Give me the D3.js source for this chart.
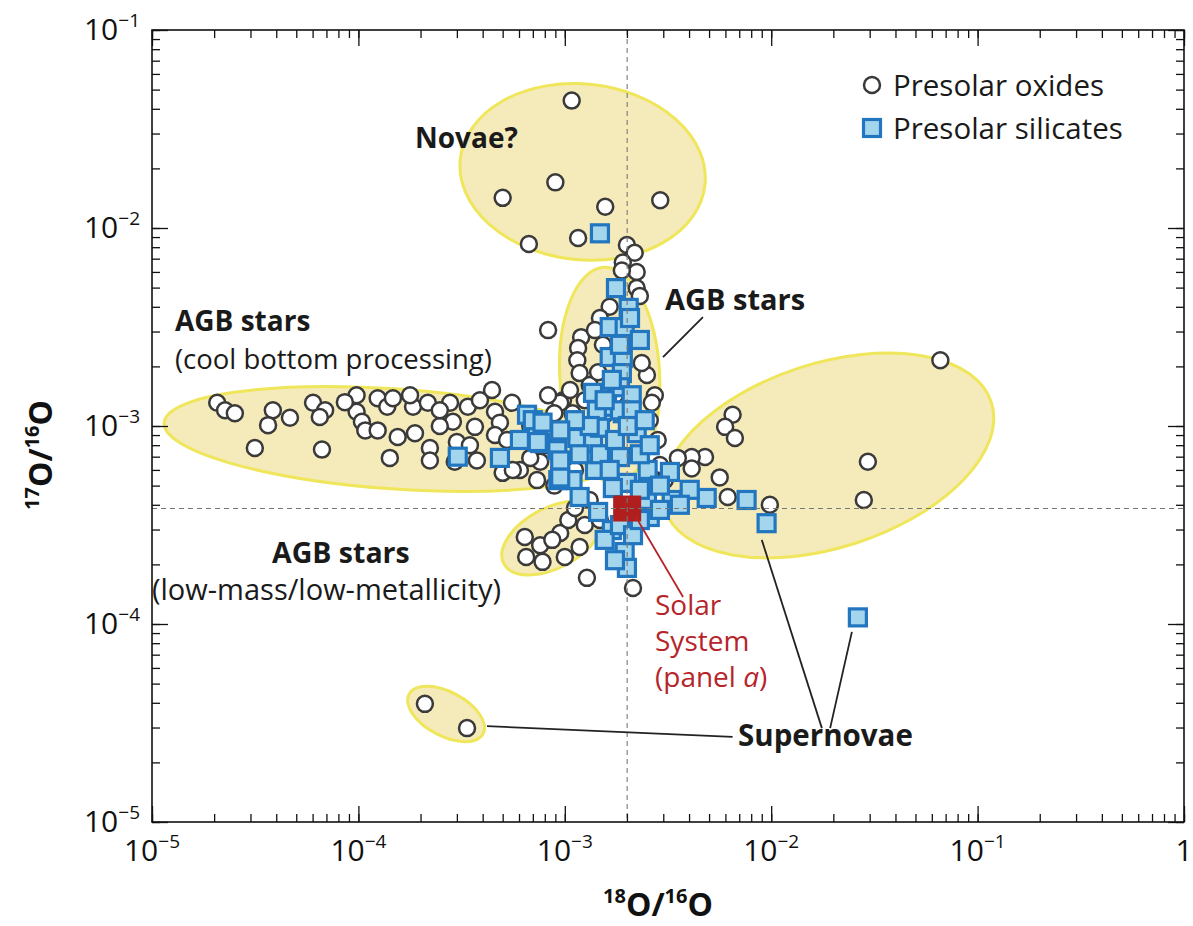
<!DOCTYPE html>
<html>
<head>
<meta charset="utf-8">
<script src="https://d3js.org/d3.v7.min.js"></script>
<style>
  body { margin: 0; background: #fff; }
  svg { display: block; }
  text { font-family: "Open Sans", sans-serif; }
</style>
</head>
<body>
<svg width="1193" height="926"></svg>
<script>
// 18O/16O and 17O/16O ratios
const oxides = [
  [1.08e-3, 4.4e-2], [5.0e-4, 1.42e-2], [9.0e-4, 1.7e-2], [1.57e-3, 1.28e-2], [2.9e-3, 1.38e-2],
  [6.7e-4, 8.3e-3], [1.16e-3, 8.9e-3],
  [2.0e-3, 8.2e-3], [2.18e-3, 7.5e-3], [1.91e-3, 6.7e-3], [2.23e-3, 6.0e-3], [1.89e-3, 6.1e-3],
  [2.23e-3, 4.97e-3], [2.31e-3, 4.54e-3], [1.65e-3, 4.0e-3], [1.2e-3, 2.81e-3], [1.16e-3, 2.48e-3],
  [1.15e-3, 2.15e-3], [1.18e-3, 1.85e-3], [2.5e-3, 1.81e-3], [2.36e-3, 2.08e-3], [9.8e-4, 1.35e-3],
  [1.09e-3, 1.16e-3], [8.3e-4, 3.05e-3], [1.48e-3, 3.51e-3], [1.32e-3, 1.61e-3], [1.53e-3, 2.57e-3],
  [2.73e-3, 1.43e-3], [2.58e-3, 1.07e-3], [1.25e-3, 1.35e-3], [1.45e-3, 1.87e-3],
  [2.07e-5, 1.31e-3], [2.26e-5, 1.2e-3], [2.52e-5, 1.16e-3], [3.85e-5, 1.2e-3], [3.65e-5, 1.01e-3],
  [4.66e-5, 1.1e-3], [3.15e-5, 7.75e-4], [6.03e-5, 1.31e-3], [6.9e-5, 1.2e-3], [6.5e-5, 1.11e-3],
  [6.66e-5, 7.6e-4], [9.8e-5, 1.43e-3], [9.8e-5, 1.18e-3], [1.04e-4, 1.05e-3], [1.24e-4, 1.38e-3],
  [1.38e-4, 1.25e-3], [1.47e-4, 1.38e-3], [1.84e-4, 1.25e-3], [2.17e-4, 1.31e-3], [1.55e-4, 8.8e-4],
  [1.88e-4, 9.2e-4], [1.42e-4, 6.9e-4], [2.22e-4, 7.75e-4], [2.22e-4, 6.7e-4], [2.78e-4, 1.31e-3],
  [3.39e-4, 1.25e-3], [4.44e-4, 1.52e-3], [5.55e-4, 1.31e-3], [4.59e-4, 1.18e-3], [2.87e-4, 1.05e-3],
  [3.67e-4, 9.9e-4], [4.85e-4, 1.04e-3], [3.0e-4, 8.3e-4], [3.75e-4, 6.7e-4], [4.59e-4, 9.0e-4],
  [5.25e-4, 8.5e-4], [5.0e-4, 5.8e-4], [6.06e-4, 6.0e-4], [7.34e-4, 5.33e-4], [7.6e-4, 6.6e-4],
  [9.5e-4, 1.31e-3], [8.9e-4, 1.16e-3], [5.6e-4, 6.0e-4], [6.8e-4, 6.9e-4], [1.78e-4, 1.43e-3],
  [2.48e-4, 1.0e-3], [1.08e-4, 9.5e-4], [8.6e-5, 1.32e-3], [8.0e-4, 8.0e-4], [6.8e-4, 1.0e-3],
  [6.4e-4, 2.75e-4], [7.6e-4, 2.5e-4], [6.5e-4, 2.18e-4], [7.8e-4, 2.06e-4], [9.5e-4, 2.88e-4],
  [1.18e-3, 2.45e-4], [1.0e-3, 2.18e-4], [1.04e-3, 3.35e-4], [1.28e-3, 1.71e-4], [2.14e-3, 1.52e-4],
  [8.7e-4, 2.66e-4], [1.12e-3, 3.85e-4], [1.25e-3, 3.16e-4],
  [6.5e-3, 1.14e-3], [5.98e-3, 9.9e-4], [6.67e-3, 8.7e-4], [4.78e-3, 6.97e-4], [4.12e-3, 6.97e-4],
  [3.53e-3, 6.9e-4], [4.12e-3, 6.1e-4], [5.63e-3, 5.5e-4], [6.16e-3, 4.38e-4], [9.85e-3, 4.0e-4],
  [6.6e-2, 2.15e-3], [2.94e-2, 6.6e-4], [2.81e-2, 4.23e-4], [2.89e-3, 6.35e-4], [3.05e-3, 5.33e-4],
  [2.1e-4, 3.95e-5], [3.36e-4, 2.98e-5],
  [8.3e-4, 1.43e-3], [1.06e-3, 1.52e-3], [8.9e-4, 5.0e-4], [1.32e-3, 4.23e-4], [1.12e-3, 6.0e-4],
  [1.48e-3, 3.35e-4], [2.82e-3, 8.5e-4], [3.88e-4, 1.35e-3], [2.48e-4, 1.2e-3], [2.93e-4, 6.6e-4],
  [1.24e-4, 9.5e-4], [3.47e-4, 8.0e-4], [1.40e-3, 3.05e-3], [1.56e-3, 1.14e-3], [1.75e-3, 1.43e-3],
  [2.64e-3, 1.31e-3]
];

const silicates = [
  [1.48e-3, 9.4e-3], [1.77e-3, 4.97e-3], [2.04e-3, 3.95e-3], [1.65e-3, 3.16e-3], [1.95e-3, 3.16e-3],
  [2.31e-3, 2.72e-3], [1.65e-3, 2.23e-3], [1.91e-3, 2.2e-3], [1.89e-3, 1.85e-3], [1.85e-3, 1.57e-3],
  [1.37e-3, 1.47e-3], [1.6e-3, 1.25e-3], [1.91e-3, 1.16e-3], [2.07e-3, 3.51e-3], [1.85e-3, 2.57e-3],
  [2.11e-3, 1.43e-3], [1.69e-3, 1.71e-3],
  [4.85e-4, 6.9e-4], [3.03e-4, 7.0e-4], [6.56e-4, 1.14e-3], [7.16e-4, 1.01e-3], [7.6e-4, 8.2e-4],
  [9.2e-4, 7.55e-4], [1.15e-3, 8.7e-4], [1.37e-3, 8.2e-4], [1.40e-3, 6.0e-4], [1.09e-3, 5.33e-4],
  [9.3e-4, 5.33e-4], [1.18e-3, 4.38e-4], [1.45e-3, 3.68e-4], [1.69e-3, 2.98e-4], [1.95e-3, 2.31e-4],
  [2.0e-3, 1.92e-4], [1.85e-3, 1.2e-3], [1.85e-3, 6.97e-4], [2.23e-3, 9.2e-4], [2.52e-3, 6.0e-4],
  [3.23e-3, 5.86e-4], [3.30e-3, 4.23e-4], [2.5e-3, 4.23e-4], [2.58e-3, 3.47e-4], [4.87e-3, 4.33e-4],
  [7.6e-3, 4.23e-4], [9.5e-3, 3.23e-4], [2.0e-3, 5.16e-4], [1.71e-3, 4.86e-4], [1.43e-3, 1.2e-3],
  [2.11e-3, 1.2e-3], [1.48e-3, 9.8e-4], [7.0e-4, 1.07e-3], [7.8e-4, 1.04e-3], [7.4e-4, 8.3e-4],
  [9.5e-4, 5.5e-4], [2.63e-2, 1.08e-4], [9.5e-4, 6.7e-4], [1.18e-3, 7.2e-4], [1.48e-3, 7.2e-4],
  [2.31e-3, 7.2e-4], [2.89e-3, 5.0e-4], [2.31e-3, 4.76e-4], [1.65e-3, 6.0e-4], [1.56e-3, 2.66e-4],
  [1.85e-3, 3.16e-4], [2.14e-3, 2.81e-4], [2.31e-3, 3.35e-4], [1.75e-3, 2.1e-4], [1.32e-3, 1.0e-3],
  [1.12e-3, 1.07e-3], [9.5e-4, 9.5e-4], [1.75e-3, 8.5e-4], [2.58e-3, 8.0e-4], [4.03e-3, 4.76e-4],
  [3.61e-3, 4.0e-4], [2.89e-3, 3.77e-4], [1.56e-3, 1.35e-3], [2.02e-3, 1.0e-3], [2.44e-3, 1.07e-3],
  [6.06e-4, 8.5e-4]
];

const solarSystem = [2.005e-3, 3.83e-4];

// shaded source regions: centre (ratios), half widths in decades, tilt in degrees
const regions = [
  { name: "novae", cx: 1.22e-3, cy: 1.92e-2, rx: 0.596, ry: 0.444, rot: 6 },
  { name: "agbCbp", cx: 1.5e-4, cy: 8.6e-4, rx: 1.12, ry: 0.2525, rot: 4 },
  { name: "snBig", cx: 1.88e-2, cy: 7.1e-4, rx: 0.833, ry: 0.465, rot: -18 },
  { name: "agbLow", cx: 8.7e-4, cy: 2.72e-4, rx: 0.266, ry: 0.152, rot: -28 },
  { name: "agb", cx: 1.65e-3, cy: 1.81e-3, rx: 0.242, ry: 0.545, rot: -3 },
  { name: "snSmall", cx: 2.66e-4, cy: 3.51e-5, rx: 0.2035, ry: 0.111, rot: 28 }
];

// leader lines, in ratios
const leaders = [
  { from: [4.67e-3, 3.55e-3], to: [2.99e-3, 2.23e-3], color: "#222" },
  { from: [2.21e-3, 3.47e-4], to: [3.74e-3, 1.37e-4], color: "#b5252a" },
  { from: [6.5e-3, 2.69e-5], to: [4.2e-4, 3.05e-5], color: "#222" },
  { from: [1.76e-2, 2.98e-5], to: [9.0e-3, 2.66e-4], color: "#222" },
  { from: [1.93e-2, 2.98e-5], to: [2.46e-2, 9.12e-5], color: "#222" }
];

const xMajor = [1e-5, 1e-4, 1e-3, 1e-2, 1e-1, 1];
const xLabels = ["-5", "-4", "-3", "-2", "-1", ""];
const yMajor = [1e-5, 1e-4, 1e-3, 1e-2, 1e-1];
const yLabels = ["-5", "-4", "-3", "-2", "-1"];

const notes = [
  { text: "Novae?", x: 415, y: 148, bold: true, size: 28 },
  { text: "AGB stars", x: 175, y: 331, bold: true, size: 28 },
  { text: "(cool bottom processing)", x: 175, y: 369, bold: false, size: 27.5 },
  { text: "AGB stars", x: 665, y: 310, bold: true, size: 29 },
  { text: "AGB stars", x: 272, y: 563, bold: true, size: 28.5 },
  { text: "(low-mass/low-metallicity)", x: 152, y: 600, bold: false, size: 29 },
  { text: "Supernovae", x: 738, y: 746, bold: true, size: 29.5 }
];

const svg = d3.select("svg");

const plotLeft = 152;
const plotRight = 1184;
const plotTop = 30;
const plotBottom = 822;

const xScale = d3.scaleLog().domain([1e-5, 1]).range([plotLeft, plotRight]);
const yScale = d3.scaleLog().domain([1e-5, 1e-1]).range([plotBottom, plotTop]);

// regions
svg
  .append("g")
  .selectAll("ellipse")
  .data(regions)
  .join("ellipse")
  .attr("cx", (d) => xScale(d.cx))
  .attr("cy", (d) => yScale(d.cy))
  .attr("rx", (d) => xScale(d.cx * Math.pow(10, d.rx)) - xScale(d.cx))
  .attr("ry", (d) => yScale(d.cy) - yScale(d.cy * Math.pow(10, d.ry)))
  .attr("transform", (d) => `rotate(${d.rot} ${xScale(d.cx)} ${yScale(d.cy)})`)
  .attr("fill", "#f5eab9")
  .attr("stroke", "#efe65c")
  .attr("stroke-width", 3);

// oxides
svg
  .append("g")
  .selectAll("circle")
  .data(oxides)
  .join("circle")
  .attr("cx", (d) => xScale(d[0]))
  .attr("cy", (d) => yScale(d[1]))
  .attr("r", 8)
  .attr("fill", "#fff")
  .attr("stroke", "#3a3a3a")
  .attr("stroke-width", 2.5);

// silicates
const sq = 17;
svg
  .append("g")
  .selectAll("rect")
  .data(silicates)
  .join("rect")
  .attr("x", (d) => xScale(d[0]) - sq / 2)
  .attr("y", (d) => yScale(d[1]) - sq / 2)
  .attr("width", sq)
  .attr("height", sq)
  .attr("fill", "#a3d6ec")
  .attr("stroke", "#2276c0")
  .attr("stroke-width", 3.2);

// solar system
svg
  .append("rect")
  .attr("x", xScale(solarSystem[0]) - 14)
  .attr("y", yScale(solarSystem[1]) - 13)
  .attr("width", 28)
  .attr("height", 26)
  .attr("fill", "#b01f1d");

// dashed solar lines
svg
  .append("line")
  .attr("x1", xScale(solarSystem[0]))
  .attr("x2", xScale(solarSystem[0]))
  .attr("y1", plotTop)
  .attr("y2", plotBottom)
  .attr("stroke", "#777")
  .attr("stroke-width", 1.1)
  .attr("stroke-dasharray", "5,4");
svg
  .append("line")
  .attr("x1", plotLeft)
  .attr("x2", plotRight)
  .attr("y1", yScale(solarSystem[1]))
  .attr("y2", yScale(solarSystem[1]))
  .attr("stroke", "#777")
  .attr("stroke-width", 1.1)
  .attr("stroke-dasharray", "5,4");

// leader lines
svg
  .append("g")
  .selectAll("line")
  .data(leaders)
  .join("line")
  .attr("x1", (d) => xScale(d.from[0]))
  .attr("y1", (d) => yScale(d.from[1]))
  .attr("x2", (d) => xScale(d.to[0]))
  .attr("y2", (d) => yScale(d.to[1]))
  .attr("stroke", (d) => d.color)
  .attr("stroke-width", 1.8);

// frame and inward ticks
svg
  .append("rect")
  .attr("x", plotLeft)
  .attr("y", plotTop)
  .attr("width", plotRight - plotLeft)
  .attr("height", plotBottom - plotTop)
  .attr("fill", "none")
  .attr("stroke", "#111")
  .attr("stroke-width", 1.6);

function tickAxis(axis, transform) {
  svg
    .append("g")
    .attr("transform", transform)
    .call(axis)
    .call((g) => g.select(".domain").remove())
    .call((g) => g.selectAll("line").attr("stroke", "#111").attr("stroke-width", 1.3));
}

const xMinor = xScale.ticks();
const yMinor = yScale.ticks();

tickAxis(d3.axisBottom(xScale).tickValues(xMinor).tickSize(-8).tickFormat(""), `translate(0,${plotBottom})`);
tickAxis(d3.axisBottom(xScale).tickValues(xMajor).tickSize(-16).tickFormat(""), `translate(0,${plotBottom})`);
tickAxis(d3.axisTop(xScale).tickValues(xMinor).tickSize(-8).tickFormat(""), `translate(0,${plotTop})`);
tickAxis(d3.axisTop(xScale).tickValues(xMajor).tickSize(-16).tickFormat(""), `translate(0,${plotTop})`);
tickAxis(d3.axisLeft(yScale).tickValues(yMinor).tickSize(-8).tickFormat(""), `translate(${plotLeft},0)`);
tickAxis(d3.axisLeft(yScale).tickValues(yMajor).tickSize(-16).tickFormat(""), `translate(${plotLeft},0)`);
tickAxis(d3.axisRight(yScale).tickValues(yMinor).tickSize(-8).tickFormat(""), `translate(${plotRight},0)`);
tickAxis(d3.axisRight(yScale).tickValues(yMajor).tickSize(-16).tickFormat(""), `translate(${plotRight},0)`);

// tick labels
function powerLabel(sel, exp) {
  if (exp === "") {
    sel.append("tspan").text("1");
    return;
  }
  sel.append("tspan").text("10");
  sel
    .append("tspan")
    .attr("font-size", 19)
    .attr("dy", -13)
    .text(exp.replace("-", "\u2212"));
}

xMajor.forEach((v, i) => {
  const t = svg
    .append("text")
    .attr("x", xScale(v))
    .attr("y", 861)
    .attr("text-anchor", "middle")
    .attr("font-size", 30)
    .attr("fill", "#111");
  powerLabel(t, xLabels[i]);
});

yMajor.forEach((v, i) => {
  const t = svg
    .append("text")
    .attr("x", 140)
    .attr("y", yScale(v) + 10)
    .attr("text-anchor", "end")
    .attr("font-size", 30)
    .attr("fill", "#111");
  powerLabel(t, yLabels[i]);
});

// axis titles
function isoTitle(sel, a, b) {
  sel.append("tspan").attr("font-size", 20).attr("dy", -13).text(a);
  sel.append("tspan").attr("dy", 13).text("O/");
  sel.append("tspan").attr("font-size", 20).attr("dy", -13).text(b);
  sel.append("tspan").attr("dy", 13).text("O");
}

const xTitle = svg
  .append("text")
  .attr("x", 658)
  .attr("y", 916)
  .attr("text-anchor", "middle")
  .attr("font-size", 32)
  .attr("font-weight", 700)
  .attr("fill", "#111");
isoTitle(xTitle, "18", "16");

const yTitle = svg
  .append("text")
  .attr("transform", "translate(52,455) rotate(-90)")
  .attr("text-anchor", "middle")
  .attr("font-size", 32)
  .attr("font-weight", 700)
  .attr("fill", "#111");
isoTitle(yTitle, "17", "16");

// annotations
svg
  .append("g")
  .selectAll("text")
  .data(notes)
  .join("text")
  .attr("x", (d) => d.x)
  .attr("y", (d) => d.y)
  .attr("font-size", (d) => d.size)
  .attr("font-weight", (d) => (d.bold ? 700 : 400))
  .attr("fill", "#1a1a1a")
  .text((d) => d.text);

const solarText = svg
  .append("text")
  .attr("x", 655)
  .attr("y", 615)
  .attr("font-size", 28)
  .attr("fill", "#b5252a");
solarText.append("tspan").attr("x", 655).text("Solar");
solarText.append("tspan").attr("x", 655).attr("dy", 36).text("System");
solarText.append("tspan").attr("x", 655).attr("dy", 36).text("(panel ");
solarText.append("tspan").attr("font-style", "italic").text("a");
solarText.append("tspan").text(")");

// legend
svg
  .append("circle")
  .attr("cx", 872)
  .attr("cy", 85)
  .attr("r", 8)
  .attr("fill", "#fff")
  .attr("stroke", "#3a3a3a")
  .attr("stroke-width", 2.5);
svg
  .append("text")
  .attr("x", 893)
  .attr("y", 96)
  .attr("font-size", 29.5)
  .attr("fill", "#1a1a1a")
  .text("Presolar oxides");
svg
  .append("rect")
  .attr("x", 872 - sq / 2)
  .attr("y", 128 - sq / 2)
  .attr("width", sq)
  .attr("height", sq)
  .attr("fill", "#a3d6ec")
  .attr("stroke", "#2276c0")
  .attr("stroke-width", 3.2);
svg
  .append("text")
  .attr("x", 893)
  .attr("y", 139)
  .attr("font-size", 29.5)
  .attr("fill", "#1a1a1a")
  .text("Presolar silicates");
</script>
</body>
</html>
